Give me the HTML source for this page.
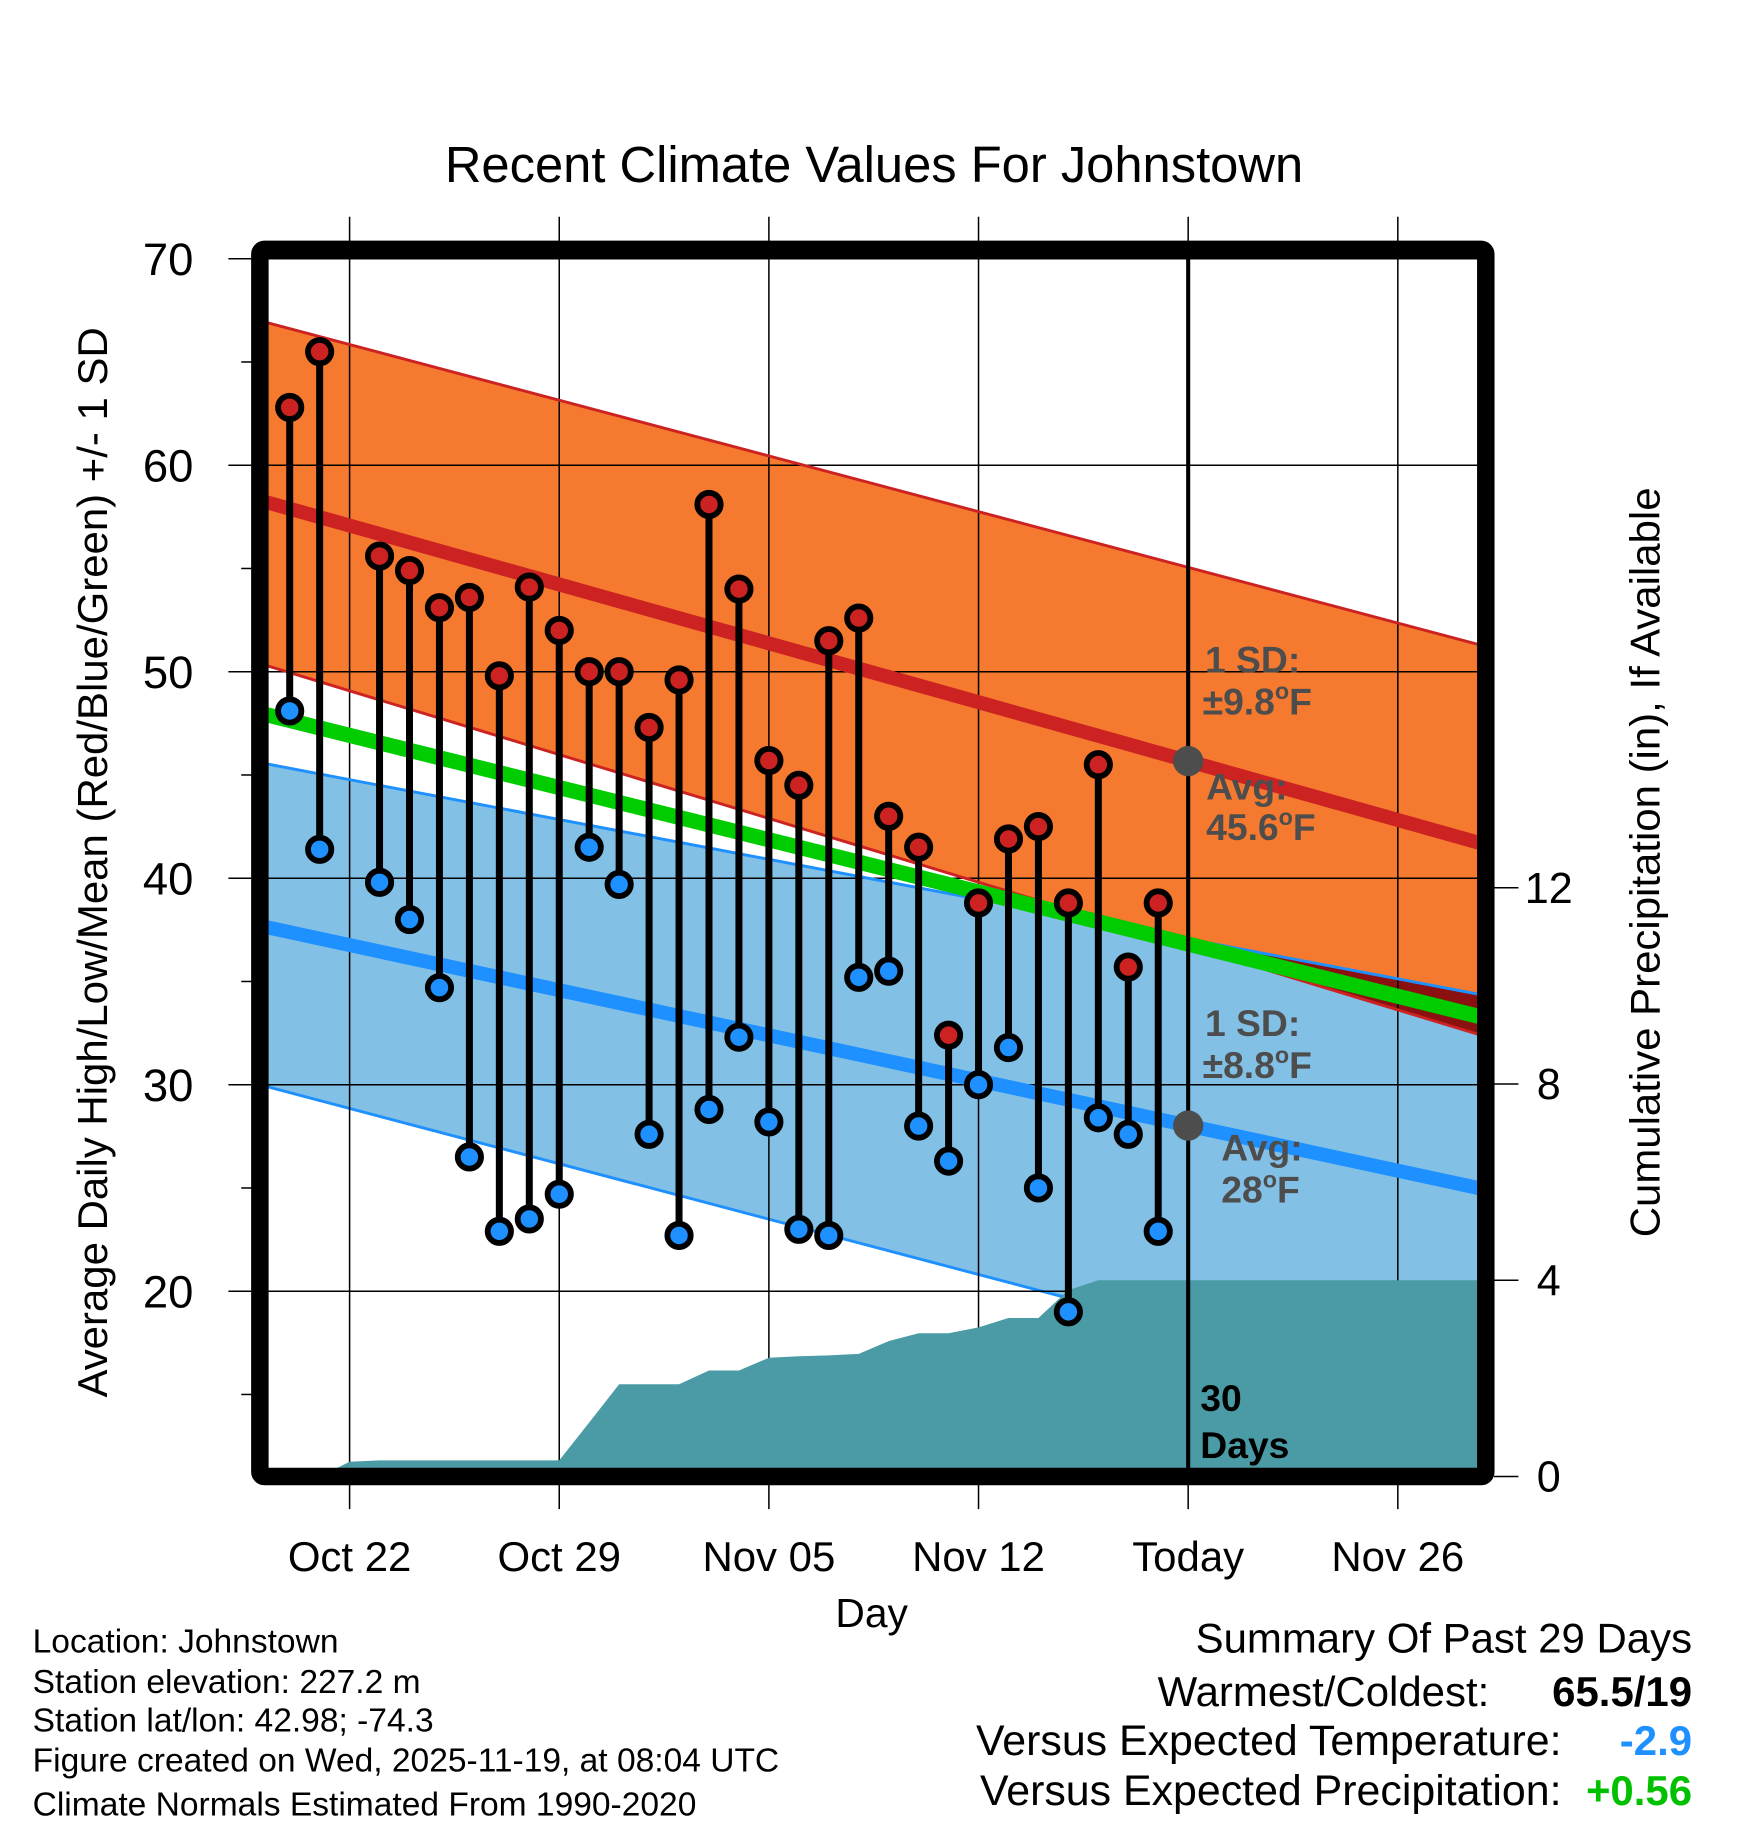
<!DOCTYPE html>
<html><head><meta charset="utf-8"><style>
html,body{margin:0;padding:0;background:#fff}
svg{display:block}
text{font-family:"Liberation Sans",Arial,sans-serif}
</style></head><body>
<svg id="c" width="1748" height="1828" viewBox="0 0 1500 1568.6" xmlns="http://www.w3.org/2000/svg">
<defs><clipPath id="plotclip"><rect x="230" y="222" width="1038" height="1038"/></clipPath>
<clipPath id="blueclip"><polygon id="bluePolyClip" points=""/></clipPath></defs>
<g id="fills" clip-path="url(#plotclip)"></g>
<g id="grid"></g>
<g id="precip" clip-path="url(#plotclip)"></g>
<g id="lines" clip-path="url(#plotclip)"></g>
<g id="marks"></g>
<g id="ann"></g>
<g id="axes"></g>
</svg>
<script>
const NS="http://www.w3.org/2000/svg";
// ---- data ----
const obsDays=[-2,-1,1,2,3,4,5,6,7,8,9,10,11,12,13,14,15,16,17,18,19,20,21,22,23,24,25,26,27];
const highs=[62.8,65.5,55.6,54.9,53.1,53.6,49.8,54.1,52.0,50.0,50.0,47.3,49.6,58.1,54.0,45.7,44.5,51.5,52.6,43.0,41.5,32.4,38.8,41.9,42.5,38.8,45.5,35.7,38.8];
const lows=[48.1,41.4,39.8,38.0,34.7,26.5,22.9,23.5,24.7,41.5,39.7,27.6,22.7,28.8,32.3,28.2,23.0,22.7,35.2,35.5,28.0,26.3,30.0,31.8,25.0,19.0,28.4,27.6,22.9];
const normDays=[-3,38];
const highAvg=[58.3,41.6];
const highUp=[67.0,51.2];
const highLo=[50.4,32.3];
const lowAvg=[37.7,24.9];
const lowUp=[45.6,34.3];
const lowLo=[30.0,14.3];
const meanAvg=[48.0,33.2];
const precipDays=[-3,-1,0,1,7,8,9,11,12,13,14,15,16,17,18,19,20,21,22,23,24,25,38];
const precipVals=[0,0,0.3,0.33,0.33,1.1,1.88,1.88,2.16,2.16,2.42,2.45,2.47,2.5,2.76,2.92,2.92,3.04,3.23,3.23,3.8,4.0,4.0];
const xTickDays=[0,7,14,21,28,35];
const xTickLabels=["Oct 22","Oct 29","Nov 05","Nov 12","Today","Nov 26"];
const yTicks=[70,60,50,40,30,20];
const pTicks=[0,4,8,12];
// ---- axes ----
const X=d=>300+d*25.7;
const Y=v=>222+(70-v)*17.72;
const P=v=>1267-v*42.1;
function mk(parent,tag,attrs,txt){const e=document.createElementNS(NS,tag);for(const k in attrs)e.setAttribute(k,attrs[k]);if(txt!==undefined)e.textContent=txt;document.getElementById(parent).appendChild(e);return e;}
function lin(arr,d){const t=(d-normDays[0])/(normDays[1]-normDays[0]);return arr[0]+(arr[1]-arr[0])*t;}
function band(up,lo){const a=normDays[0],b=normDays[1];return `${X(a)},${Y(lin(up,a))} ${X(b)},${Y(lin(up,b))} ${X(b)},${Y(lin(lo,b))} ${X(a)},${Y(lin(lo,a))}`;}
let e;
e=mk('fills','polygon',{points:band(highUp,highLo),fill:'#f5792e'});


document.getElementById('bluePolyClip').setAttribute('points',band(lowUp,lowLo));
e=mk('fills','polygon',{points:band(lowUp,lowLo),fill:'#82c0e6'});


e=mk('fills','polygon',{points:band(highUp,highLo),fill:'#8b1010','clip-path':'url(#blueclip)'});


function nl(g,arr,col,w,name){const a=normDays[0],b=normDays[1];const l=mk(g,'line',{x1:X(a),y1:Y(lin(arr,a)),x2:X(b),y2:Y(lin(arr,b)),stroke:col,'stroke-width':w});}
nl('fills',lowLo,'#1e90ff',2.5,'low-lower-sd-line');
// grid
xTickDays.forEach((d,i)=>{
 e=mk('grid','line',{x1:X(d),x2:X(d),y1:186,y2:1295,stroke:'#000','stroke-width':1.3});
 
 
 e=mk('axes','text',{x:X(d),y:1348,'font-size':36,'text-anchor':'middle'},xTickLabels[i]);
 
 
});
yTicks.forEach(v=>{
 e=mk('grid','line',{x1:196,x2:1268,y1:Y(v),y2:Y(v),stroke:'#000','stroke-width':1.3});
 
 
 e=mk('axes','text',{x:166,y:Y(v)+14,'font-size':39,'text-anchor':'end'},String(v));
 
 
});
[65,55,45,35,25,15].forEach(v=>{
 e=mk('axes','line',{x1:207,x2:216,y1:Y(v),y2:Y(v),stroke:'#000','stroke-width':1.3});
 
 
});
pTicks.forEach(v=>{
 e=mk('axes','line',{x1:1282,x2:1303,y1:P(v),y2:P(v),stroke:'#000','stroke-width':1.3});
 
 
 e=mk('axes','text',{x:1329,y:P(v)+13,'font-size':37,'text-anchor':'middle'},String(v));
 
 
});
// precip
let pp=precipDays.map((d,i)=>`${X(d)},${P(precipVals[i])}`).join(' ');
pp+=` ${X(precipDays[precipDays.length-1])},1268 ${X(precipDays[0])},1268`;
e=mk('precip','polygon',{points:pp,fill:'#4a9ba5'});


// lines
nl('lines',highUp,'#cc2222',2.5,'high-upper-sd-line');
nl('lines',highLo,'#cc2222',2.5,'high-lower-sd-line');
nl('lines',lowUp,'#1e90ff',2.5,'low-upper-sd-line');
nl('lines',highAvg,'#cc2222',12,'normal-high-line');
nl('lines',lowAvg,'#1e90ff',12,'normal-low-line');
nl('lines',meanAvg,'#00cc00',13,'normal-mean-line');
// today line
e=mk('lines','line',{x1:X(28),x2:X(28),y1:222,y2:1262,stroke:'#000','stroke-width':3.5});


// stems and points
obsDays.forEach((d,i)=>{
 e=mk('marks','line',{x1:X(d),x2:X(d),y1:Y(highs[i]),y2:Y(lows[i]),stroke:'#000','stroke-width':6});
 
 
 e=mk('marks','circle',{cx:X(d),cy:Y(highs[i]),r:10,fill:'#cc2222',stroke:'#000','stroke-width':5});
 
 
 e=mk('marks','circle',{cx:X(d),cy:Y(lows[i]),r:10,fill:'#1e90ff',stroke:'#000','stroke-width':5});
 
 
});
e=mk('ann','circle',{cx:X(28),cy:Y(lin(highAvg,28)),r:13,fill:'#4d4d4d'});


e=mk('ann','circle',{cx:X(28),cy:Y(lin(lowAvg,28)),r:13,fill:'#4d4d4d'});


</script>
<script>
(function(){
const NS="http://www.w3.org/2000/svg";
const g=document.getElementById('ann');
function t(x,y,s,txt,name,extra){const e=document.createElementNS(NS,'text');e.setAttribute('x',x);e.setAttribute('y',y);e.setAttribute('font-size',s);for(const k in (extra||{}))e.setAttribute(k,extra[k]);e.innerHTML=txt;


g.appendChild(e);}
const b={'font-weight':'bold',fill:'#4d4d4d'};
const sup='<tspan dy="-13" font-size="20">o</tspan><tspan dy="13">F</tspan>';
t(1034,577,32,'1 SD:','high-sd-label',b);
t(1032,613,32,'±9.8'+sup,'high-sd-value',b);
t(1035,686,32,'Avg:','high-avg-label',b);
t(1035,721,32,'45.6'+sup,'high-avg-value',b);
t(1034,889,32,'1 SD:','low-sd-label',b);
t(1032,925,32,'±8.8'+sup,'low-sd-value',b);
t(1048,996,32,'Avg:','low-avg-label',b);
t(1048,1032,32,'28'+sup,'low-avg-value',b);
t(1030,1211,32,'30','days-count-label',{'font-weight':'bold'});
t(1030,1251,32,'Days','days-label',{'font-weight':'bold'});
})();
</script>
<script>
(function(){
const NS="http://www.w3.org/2000/svg";
const g=document.getElementById('axes');
function t(x,y,s,txt,name,extra){const e=document.createElementNS(NS,'text');e.setAttribute('x',x);e.setAttribute('y',y);e.setAttribute('font-size',s);for(const k in (extra||{}))e.setAttribute(k,extra[k]);e.textContent=txt;


g.appendChild(e);}
const f=document.createElementNS(NS,'rect');
f.setAttribute('x',223);f.setAttribute('y',214);f.setAttribute('width',1052);f.setAttribute('height',1053);f.setAttribute('rx',4);
f.setAttribute('fill','none');f.setAttribute('stroke','#000');f.setAttribute('stroke-width',15);


g.appendChild(f);
t(750,156,43.5,'Recent Climate Values For Johnstown','chart-title',{'text-anchor':'middle'});
t(748,1396,35,'Day','x-axis-title',{'text-anchor':'middle'});
t(92,740,36,'Average Daily High/Low/Mean (Red/Blue/Green) +/- 1 SD','y-axis-title',{'text-anchor':'middle',transform:'rotate(-90 92 740)'});
t(1424,740,36,'Cumulative Precipitation (in), If Available','y2-axis-title',{'text-anchor':'middle',transform:'rotate(-90 1424 740)'});
const info=['Location: Johnstown','Station elevation: 227.2 m','Station lat/lon: 42.98; -74.3','Figure created on Wed, 2025-11-19, at 08:04 UTC','Climate Normals Estimated From 1990-2020'];
const ys=[1418,1453,1486,1520,1558];
info.forEach((s,i)=>t(28,ys[i],28.8,s,'station-info-line'));
t(1452,1418,36,'Summary Of Past 29 Days','summary-title',{'text-anchor':'end'});
t(1278,1464,36,'Warmest/Coldest:','warmest-coldest-label',{'text-anchor':'end'});
t(1452,1464,36,'65.5/19','warmest-coldest-value',{'text-anchor':'end','font-weight':'bold'});
t(1340,1506,36.8,'Versus Expected Temperature:','temp-departure-label',{'text-anchor':'end'});
t(1452,1506,36,'-2.9','temp-departure-value',{'text-anchor':'end','font-weight':'bold',fill:'#1e90ff'});
t(1340,1549,36.8,'Versus Expected Precipitation:','precip-departure-label',{'text-anchor':'end'});
t(1452,1549,36,'+0.56','precip-departure-value',{'text-anchor':'end','font-weight':'bold',fill:'#00c000'});
})();
</script>
</body></html>
